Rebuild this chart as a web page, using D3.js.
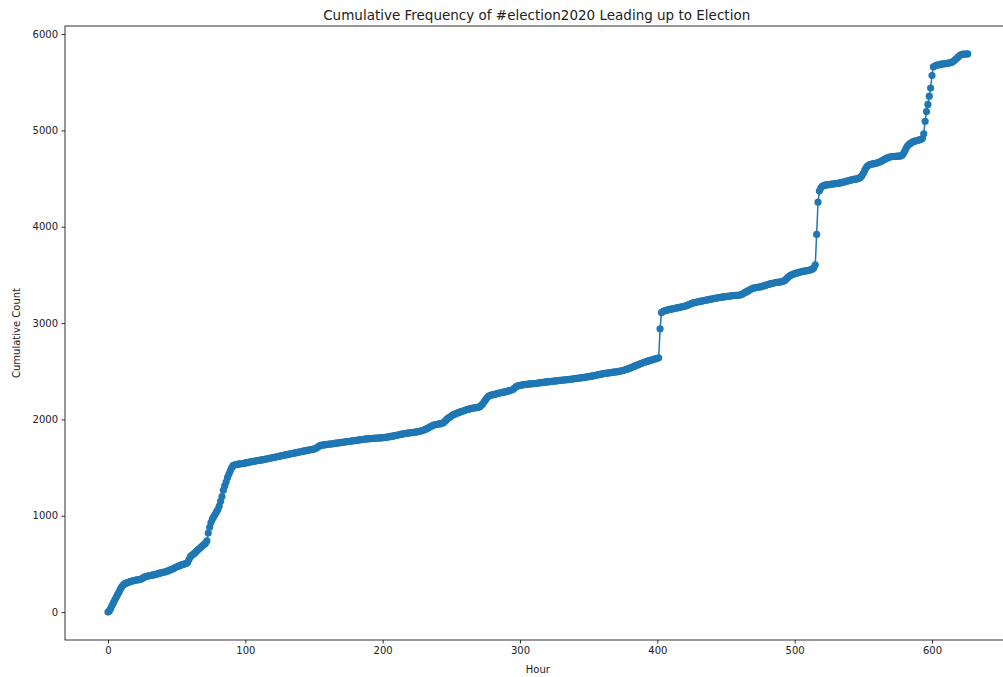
<!DOCTYPE html>
<html>
<head>
<meta charset="utf-8">
<script src="https://cdn.jsdelivr.net/npm/d3@7"></script>
<style>
  html, body { margin: 0; padding: 0; background: #fff; }
  svg { display: block; }
  text { font-family: "DejaVu Sans", sans-serif; fill: #222; }
</style>
</head>
<body>
<svg id="chart" width="1003" height="677"></svg>
<script>
// Cumulative count of #election2020 posts, one value per hour (hour = index)
const cumulativeCount = [
  0, 12, 38, 70, 98, 128, 155, 182, 207, 238,
  262, 281, 292, 298, 305, 309, 316, 320, 324, 328,
  331, 333, 336, 338, 341, 349, 360, 366, 370, 374,
  377, 380, 383, 386, 389, 392, 396, 401, 405, 409,
  412, 415, 419, 424, 430, 436, 441, 447, 455, 462,
  468, 474, 480, 487, 492, 496, 500, 505, 515, 545,
  575, 590, 600, 612, 625, 640, 652, 665, 678, 690,
  702, 715, 740, 820, 880, 930, 965, 990, 1015, 1040,
  1065, 1100, 1150, 1200, 1265, 1310, 1350, 1395, 1430, 1465,
  1495, 1520, 1526, 1530, 1533, 1535, 1538, 1540, 1542, 1545,
  1548, 1551, 1554, 1557, 1560, 1562, 1565, 1567, 1570, 1573,
  1575, 1578, 1580, 1583, 1586, 1589, 1591, 1594, 1597, 1600,
  1603, 1606, 1609, 1612, 1615, 1618, 1622, 1625, 1628, 1631,
  1634, 1637, 1640, 1643, 1646, 1649, 1652, 1655, 1658, 1661,
  1664, 1667, 1670, 1673, 1676, 1679, 1682, 1684, 1687, 1690,
  1693, 1697, 1705, 1715, 1725, 1730, 1733, 1735, 1737, 1739,
  1741, 1743, 1745, 1747, 1749, 1751, 1753, 1755, 1757, 1759,
  1761, 1763, 1765, 1767, 1769, 1771, 1773, 1775, 1777, 1779,
  1781, 1783, 1785, 1787, 1789, 1791, 1793, 1795, 1797, 1799,
  1800, 1801, 1802, 1803, 1804, 1805, 1806, 1807, 1808, 1809,
  1810, 1812, 1814, 1816, 1818, 1820, 1823, 1826, 1829, 1832,
  1835, 1838, 1841, 1844, 1847, 1850, 1853, 1855, 1857, 1859,
  1861, 1863, 1865, 1867, 1869, 1871, 1874, 1877, 1881, 1885,
  1890, 1896, 1903, 1910, 1918, 1926, 1933, 1940, 1944, 1947,
  1950, 1953, 1956, 1960, 1965, 1975, 1990, 2005, 2015, 2025,
  2035, 2045, 2052, 2058, 2064, 2070, 2075, 2080, 2085, 2090,
  2095, 2100, 2104, 2108, 2112, 2115, 2118, 2120, 2122, 2124,
  2128, 2135, 2148, 2165, 2185, 2205, 2225, 2240, 2248, 2252,
  2255, 2258, 2262, 2266, 2270, 2274, 2277, 2280, 2283, 2286,
  2289, 2293, 2298, 2302, 2305, 2312, 2325, 2338, 2345, 2350,
  2354, 2357, 2359, 2361, 2363, 2365, 2367, 2368, 2369, 2370,
  2372, 2373, 2375, 2377, 2379, 2381, 2383, 2385, 2387, 2389,
  2390, 2392, 2393, 2395, 2397, 2398, 2400, 2401, 2403, 2405,
  2406, 2408, 2409, 2411, 2412, 2414, 2416, 2417, 2419, 2421,
  2423, 2425, 2427, 2429, 2431, 2433, 2435, 2437, 2439, 2441,
  2443, 2446, 2449, 2452, 2455, 2458, 2461, 2464, 2467, 2470,
  2473, 2476, 2478, 2480, 2482, 2484, 2486, 2488, 2490, 2492,
  2494, 2496, 2498, 2501, 2504, 2508, 2512, 2517, 2522, 2527,
  2532, 2538, 2544, 2550, 2556, 2562, 2568, 2574, 2580, 2585,
  2590, 2595, 2600, 2605, 2610, 2614, 2618, 2622, 2626, 2630,
  2634, 2640, 2940, 3110, 3120, 3126, 3130, 3134, 3138, 3142,
  3145, 3148, 3151, 3154, 3157, 3160, 3163, 3166, 3169, 3172,
  3175, 3180, 3186, 3192, 3198, 3204, 3209, 3213, 3216, 3219,
  3222, 3225, 3228, 3231, 3234, 3237, 3240, 3243, 3246, 3249,
  3250, 3253, 3256, 3259, 3262, 3265, 3267, 3269, 3271, 3273,
  3275, 3277, 3279, 3281, 3283, 3285, 3286, 3287, 3288, 3289,
  3291, 3295, 3302, 3310, 3318, 3326, 3334, 3342, 3350, 3357,
  3362, 3366, 3369, 3372, 3374, 3376, 3379, 3383, 3388, 3393,
  3398, 3402, 3406, 3410, 3413, 3416, 3419, 3422, 3424, 3426,
  3428, 3431, 3436, 3445, 3458, 3472, 3485, 3495, 3502, 3508,
  3513, 3518, 3522, 3526, 3530, 3533, 3536, 3539, 3542, 3545,
  3548, 3551, 3555, 3562, 3575, 3605, 3920, 4255, 4370, 4402,
  4418, 4426, 4431, 4434, 4436, 4438, 4440, 4442, 4444, 4446,
  4448, 4450, 4452, 4455, 4458, 4461, 4465, 4469, 4473, 4477,
  4481, 4485, 4489, 4492, 4494, 4496, 4498, 4505, 4515, 4530,
  4555, 4585, 4612, 4630, 4640, 4645, 4649, 4652, 4655, 4658,
  4662, 4667, 4673, 4680, 4688, 4696, 4704, 4712, 4718, 4723,
  4726, 4728, 4729, 4730, 4731, 4732, 4733, 4734, 4740, 4755,
  4780, 4810, 4835, 4850, 4862, 4872, 4880, 4886, 4891, 4895,
  4899, 4903, 4908, 4915, 4965, 5095, 5195, 5270, 5355, 5440,
  5570, 5660, 5668, 5674, 5678, 5682, 5685, 5688, 5690, 5692,
  5694, 5696, 5698, 5701, 5705, 5712, 5722, 5735, 5748, 5762,
  5775, 5785, 5789, 5791, 5792, 5793, 5794
];
const xTickValues = [0, 100, 200, 300, 400, 500, 600];
const yTickValues = [0, 1000, 2000, 3000, 4000, 5000, 6000];
const chartTitle = "Cumulative Frequency of #election2020 Leading up to Election";
const xLabel = "Hour";
const yLabel = "Cumulative Count";

const points = cumulativeCount.map((v, i) => ({ hour: i, count: v }));

// Plot area (extends slightly past the right edge of the window)
const plot = { left: 65, top: 26, right: 1010.7, bottom: 640 };
const lineColor = "#1f77b4";

// Axis limits with 5% padding around the data range
function padded(lo, hi) { const m = (hi - lo) * 0.05; return [lo - m, hi + m]; }
const x = d3.scaleLinear()
  .domain(padded(0, d3.max(points, d => d.hour)))
  .range([plot.left, plot.right]);
const y = d3.scaleLinear()
  .domain(padded(0, d3.max(points, d => d.count)))
  .range([plot.bottom, plot.top]);

const svg = d3.select("#chart");

// Series: connecting line then circular markers
svg.append("path")
  .datum(points)
  .attr("fill", "none")
  .attr("stroke", lineColor)
  .attr("stroke-width", 1.5)
  .attr("stroke-linejoin", "round")
  .attr("d", d3.line().x(d => x(d.hour)).y(d => y(d.count)));

svg.append("g")
  .selectAll("circle")
  .data(points)
  .join("circle")
  .attr("cx", d => x(d.hour))
  .attr("cy", d => y(d.count))
  .attr("r", 3.6)
  .attr("fill", lineColor);

// Frame
svg.append("rect")
  .attr("x", plot.left).attr("y", plot.top)
  .attr("width", plot.right - plot.left).attr("height", plot.bottom - plot.top)
  .attr("fill", "none").attr("stroke", "#000").attr("stroke-width", 0.8);

// Axes
const xAxis = d3.axisBottom(x).tickValues(xTickValues).tickSize(3.5).tickPadding(3.5).tickFormat(d3.format("d"));
const yAxis = d3.axisLeft(y).tickValues(yTickValues).tickSize(3.5).tickPadding(3.5).tickFormat(d3.format("d"));

const gx = svg.append("g").attr("transform", `translate(0,${plot.bottom})`).call(xAxis);
const gy = svg.append("g").attr("transform", `translate(${plot.left},0)`).call(yAxis);
[gx, gy].forEach(g => {
  g.select(".domain").remove();
  g.selectAll(".tick line").attr("stroke", "#000").attr("stroke-width", 0.8);
  g.selectAll(".tick text").attr("font-size", 10).style("fill", "#222");
});

// Title and axis labels
svg.append("text")
  .attr("x", 536.7).attr("y", 20)
  .attr("text-anchor", "middle")
  .attr("font-size", 13.5)
  .text(chartTitle);

svg.append("text")
  .attr("x", (plot.left + plot.right) / 2).attr("y", 673)
  .attr("text-anchor", "middle")
  .attr("font-size", 10)
  .text(xLabel);

svg.append("text")
  .attr("transform", `translate(20,${(plot.top + plot.bottom) / 2}) rotate(-90)`)
  .attr("text-anchor", "middle")
  .attr("font-size", 10)
  .text(yLabel);
</script>
</body>
</html>
